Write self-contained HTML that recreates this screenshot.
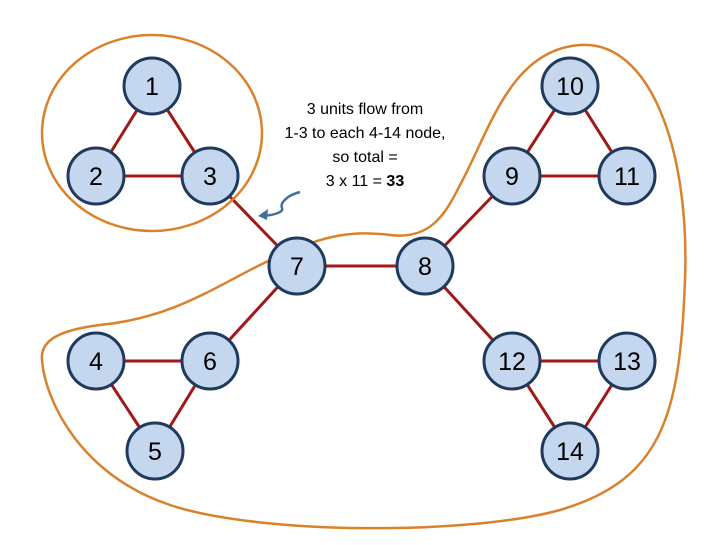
<!DOCTYPE html>
<html><head><style>body{margin:0;background:#fff}</style></head><body>
<svg width="720" height="540" viewBox="0 0 720 540" xmlns="http://www.w3.org/2000/svg" font-family="Liberation Sans, sans-serif">
<g stroke="#a01818" stroke-width="3">
<line x1="152" y1="86" x2="96" y2="176"/><line x1="152" y1="86" x2="210" y2="176"/><line x1="96" y1="176" x2="210" y2="176"/>
<line x1="210" y1="176" x2="297" y2="266"/><line x1="297" y1="266" x2="425" y2="266"/>
<line x1="297" y1="266" x2="210" y2="361"/><line x1="96" y1="361" x2="210" y2="361"/><line x1="96" y1="361" x2="155" y2="451"/><line x1="210" y1="361" x2="155" y2="451"/>
<line x1="425" y1="266" x2="512" y2="176"/><line x1="425" y1="266" x2="512" y2="361"/>
<line x1="570" y1="86" x2="512" y2="176"/><line x1="570" y1="86" x2="627" y2="176"/><line x1="512" y1="176" x2="627" y2="176"/>
<line x1="512" y1="361" x2="627" y2="361"/><line x1="512" y1="361" x2="570" y2="451"/><line x1="627" y1="361" x2="570" y2="451"/>
</g>
<g fill="none" stroke="#d9822b" stroke-width="2.5">
<ellipse cx="152" cy="133" rx="110" ry="98"/>
<path d="M460,185 C490,130 510,50 580,45 C650,40 690,150 685,280 C680,420 660,480 560,510 C470,535 260,535 170,505 C80,475 45,400 42,360 C40,340 60,330 100,325 C170,318 210,290 260,265 C320,235 350,230 390,235 C430,240 445,215 460,185 Z"/>
</g>
<path d="M300,192 C285,196 280,204 282,208 C284,212 275,215 262,216" fill="none" stroke="#41719c" stroke-width="2.5"/>
<path d="M258,216 L268,209 L267,220 Z" fill="#41719c"/>
<g fill="#c5d7ee" stroke="#1f3a5c" stroke-width="3">
<circle cx="152" cy="86" r="28"/><circle cx="96" cy="176" r="28"/><circle cx="210" cy="176" r="28"/>
<circle cx="297" cy="266" r="28"/><circle cx="425" cy="266" r="28"/>
<circle cx="96" cy="361" r="28"/><circle cx="210" cy="361" r="28"/><circle cx="155" cy="451" r="28"/>
<circle cx="570" cy="86" r="28"/><circle cx="512" cy="176" r="28"/><circle cx="627" cy="176" r="28"/>
<circle cx="512" cy="361" r="28"/><circle cx="627" cy="361" r="28"/><circle cx="570" cy="451" r="28"/>
</g>
<g font-size="25" text-anchor="middle" fill="#000">
<text x="152" y="95">1</text><text x="96" y="185">2</text><text x="210" y="185">3</text>
<text x="297" y="275">7</text><text x="425" y="275">8</text>
<text x="96" y="370">4</text><text x="210" y="370">6</text><text x="155" y="460">5</text>
<text x="570" y="95">10</text><text x="512" y="185">9</text><text x="627" y="185">11</text>
<text x="512" y="370">12</text><text x="627" y="370">13</text><text x="570" y="460">14</text>
</g>
<g font-size="16" text-anchor="middle" fill="#000">
<text x="365" y="114">3 units flow from</text>
<text x="365" y="138">1-3 to each 4-14 node,</text>
<text x="365" y="162">so total =</text>
<text x="365" y="186">3 x 11 = <tspan font-weight="bold">33</tspan></text>
</g>
</svg>
</body></html>
